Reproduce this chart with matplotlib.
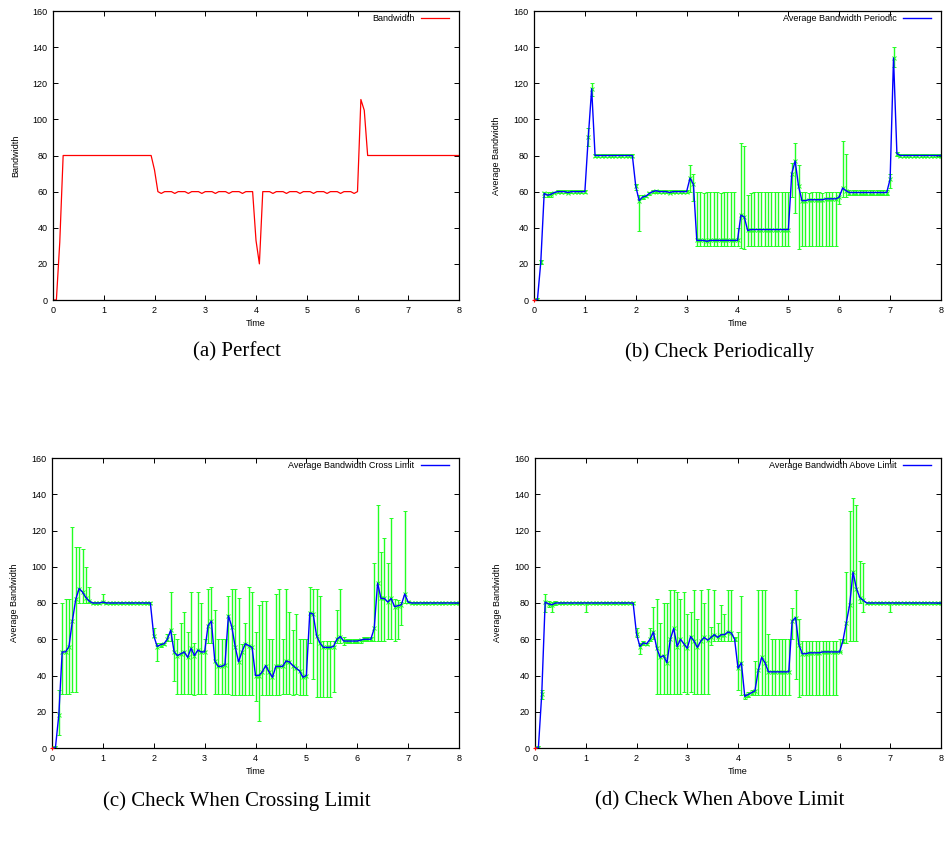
import numpy as np
import matplotlib
matplotlib.use("Agg")
import matplotlib.pyplot as plt

# one sample every 1/15 time unit, 0..8
SAMPLE_STEP = 1 / 15

# (a) perfect bandwidth
perfect = [
    0, 0, 32, 80, 80, 80, 80, 80, 80, 80, 80, 80, 80, 80, 80,
    80, 80, 80, 80, 80, 80, 80, 80, 80, 80, 80, 80, 80, 80, 80,
    72, 60, 59, 60, 60, 60, 59, 60, 60, 60, 59, 60, 60, 60, 59,
    60, 60, 60, 59, 60, 60, 60, 59, 60, 60, 60, 59, 60, 60, 60,
    33, 20, 60, 60, 60, 59, 60, 60, 60, 59, 60, 60, 60, 59, 60,
    60, 60, 59, 60, 60, 60, 59, 60, 60, 60, 59, 60, 60, 60, 59,
    60, 111, 105, 80, 80, 80, 80, 80, 80, 80, 80, 80, 80, 80, 80,
    80, 80, 80, 80, 80, 80, 80, 80, 80, 80, 80, 80, 80, 80, 80,
    80,
]

# (b) check periodically
periodic_mean = [
    0, 0, 21, 59, 58, 58.5, 59.5, 60, 60, 60, 59.5, 60, 60, 60, 60,
    60, 90, 117, 80, 80, 80, 80, 80, 80, 80, 80, 80, 80, 80, 80,
    63, 55, 57, 57.5, 59, 60, 60.5, 60, 60, 60, 59.5, 60, 60, 60, 60,
    60, 67.5, 64, 33, 33, 33, 32.5, 33, 33, 33, 33, 33, 33, 33, 33,
    33, 47, 46, 38.5, 39, 39, 39, 39, 39, 39, 39, 39, 39, 39, 39,
    39, 70, 77, 63, 55, 55, 55.5, 55.5, 55.5, 55.5, 55.5, 56, 56, 56, 56,
    57, 62, 60.5, 59.5, 59.5, 59.5, 59.5, 59.5, 59.5, 59.5, 59.5, 59.5, 59.5, 59.5, 59.5,
    67, 134, 81, 80, 80, 80, 80, 80, 80, 80, 80, 80, 80, 80, 80,
    80,
]
periodic_low = [
    0, 0, 20, 57, 57, 57, 59, 59, 59, 59, 59, 59, 59, 59, 59,
    59, 85, 113, 79, 79, 79, 79, 79, 79, 79, 79, 79, 79, 79, 79,
    61, 38, 56, 57, 58, 59, 59, 59, 59, 59, 59, 59, 59, 59, 59,
    59, 60, 55, 30, 30, 30, 30, 30, 30, 30, 30, 30, 30, 30, 30,
    30, 29, 28, 30, 30, 30, 30, 30, 30, 30, 30, 30, 30, 30, 30,
    30, 57, 48, 28, 30, 30, 30, 30, 30, 30, 30, 30, 30, 30, 30,
    53, 57, 57, 58, 58, 58, 58, 58, 58, 58, 58, 58, 58, 58, 58,
    62, 129, 80, 79, 79, 79, 79, 79, 79, 79, 79, 79, 79, 79, 79,
    79,
]
periodic_high = [
    0, 1, 22, 60, 60, 60, 60, 61, 61, 61, 61, 61, 61, 61, 61,
    61, 95, 120, 81, 81, 81, 81, 81, 81, 81, 81, 81, 81, 81, 81,
    64, 58, 58, 58, 60, 61, 61, 61, 61, 61, 61, 61, 61, 61, 61,
    61, 75, 70, 60, 60, 59, 60, 60, 60, 60, 59, 60, 60, 60, 60,
    40, 87, 85, 58, 59, 60, 60, 60, 60, 60, 60, 60, 60, 60, 60,
    60, 76, 87, 75, 60, 60, 59, 60, 60, 60, 59, 60, 60, 60, 60,
    60, 88, 81, 61, 61, 61, 61, 61, 61, 61, 61, 61, 61, 61, 61,
    70, 140, 82, 81, 81, 81, 81, 81, 81, 81, 81, 81, 81, 81, 81,
    81,
]

# (c) check when crossing limit
cross_mean = [
    0, 0, 18, 53, 53, 56, 70, 82, 88, 86, 83, 81, 80, 80, 80,
    80.5, 80, 80, 80, 80, 80, 80, 80, 80, 80, 80, 80, 80, 80, 80,
    62, 56, 57, 57.5, 60, 65, 53, 51, 52, 53, 50, 55, 51, 54, 53,
    53, 67.5, 70, 48, 45, 45, 46, 73, 67, 56, 47.5, 53, 57.5, 56.5, 55.5,
    40, 40, 42, 45.5, 42, 39, 45, 45, 45, 48, 47.5, 45.5, 44, 42.5, 39,
    40, 74.5, 74, 62, 58, 55.5, 55.5, 55.5, 56, 60, 61.5, 59, 59, 59, 59,
    59, 59.5, 60, 60, 60, 66, 91, 82.5, 82.5, 80.5, 82.5, 78, 78.5, 79, 85,
    80.5, 80, 80, 80, 80, 80, 80, 80, 80, 80, 80, 80, 80, 80, 80,
    80,
]
cross_low = [
    0, 0, 7, 30, 30, 30, 31, 31, 80, 80, 80, 80, 79.5, 79.5, 79.5,
    80, 79.5, 79.5, 79.5, 79.5, 79.5, 79.5, 79.5, 79.5, 79.5, 79.5, 79.5, 79.5, 79.5, 79.5,
    61, 48, 56, 57, 59, 59, 37, 30, 30, 30, 30, 30, 29, 30, 30,
    30, 58, 58, 30, 30, 30, 30, 30, 29, 29, 29, 29, 29, 29, 29,
    26, 15, 29, 29, 29, 29, 29, 29, 30, 30, 30, 29, 30, 29, 29,
    29, 58, 38, 28, 28, 28, 28, 28, 31, 58, 58, 57, 58, 58, 58,
    58, 58, 59, 59, 59, 59, 59, 59, 59, 60, 60, 59, 60, 68, 80,
    80, 79.5, 79.5, 79.5, 79.5, 79.5, 79.5, 79.5, 79.5, 79.5, 79.5, 79.5, 79.5, 79.5, 79.5,
    79.5,
]
cross_high = [
    0, 1, 32, 80, 82, 82, 122, 111, 111, 110, 100, 89, 80.5, 80.5, 80.5,
    85, 80.5, 80.5, 80.5, 80.5, 80.5, 80.5, 80.5, 80.5, 80.5, 80.5, 80.5, 80.5, 80.5, 80.5,
    66, 58, 58, 58, 63, 86, 63, 60, 69, 75, 64, 86, 58, 86, 80,
    60, 87.5, 89, 76, 60, 60, 60, 84, 87.5, 87.5, 82.5, 57.5, 69, 89, 86,
    64, 79, 81, 81, 60, 60, 85, 87.5, 60, 87.5, 75, 65, 74, 60, 60,
    60, 89, 87.5, 87.5, 84, 59, 59, 59, 59, 76, 87.5, 61, 60, 60, 60,
    60, 60, 61, 61, 61, 102, 134, 108, 116, 102, 127, 82, 81.5, 80.5, 130.5,
    81, 80.5, 80.5, 80.5, 80.5, 80.5, 80.5, 80.5, 80.5, 80.5, 80.5, 80.5, 80.5, 80.5, 80.5,
    80.5,
]

# (d) check when above limit
above_mean = [
    0, 0, 30, 80.5, 79.5, 79, 80, 80, 80, 80, 80, 80, 80, 80, 80,
    80, 80, 80, 80, 80, 80, 80, 80, 80, 80, 80, 80, 80, 80, 80,
    63, 56, 58, 57.5, 60, 64, 55, 50, 51, 47, 60, 66, 56, 60, 57.5,
    55, 61.5, 59, 55.5, 59, 61, 59.5, 61, 62.5, 61, 62.5, 62.5, 64, 63.5, 60,
    44, 47, 28.5, 29.5, 30.5, 31.5, 43, 50, 47, 42, 42, 42, 42, 42, 42,
    42, 70, 72, 57, 52, 52, 52.5, 52.5, 52.5, 52.5, 53, 53, 53, 53, 53,
    53, 59, 69, 79, 97, 88, 83, 81.5, 80, 80, 80, 80, 80, 80, 80,
    80, 80, 80, 80, 80, 80, 80, 80, 80, 80, 80, 80, 80, 80, 80,
    80,
]
above_low = [
    0, 0, 27, 75, 78, 75, 79, 79.5, 79.5, 79.5, 79.5, 79.5, 79.5, 79.5, 79.5,
    75, 79.5, 79.5, 79.5, 79.5, 79.5, 79.5, 79.5, 79.5, 79.5, 79.5, 79.5, 79.5, 79.5, 79.5,
    61, 52, 57, 57, 59, 60, 30, 30, 30, 30, 30, 30, 30, 30, 31,
    30, 31, 30, 30, 30, 30, 30, 57, 59, 59, 59, 59, 59, 59, 59,
    32, 29, 27, 28, 29, 29, 29, 29, 29, 29, 29, 29, 29, 29, 29,
    29, 60, 38, 28, 29, 29, 29, 29, 29, 29, 29, 29, 29, 29, 29,
    53, 58, 58, 59, 59, 59, 80, 75, 79.5, 79.5, 79.5, 79.5, 79.5, 79.5, 79.5,
    75, 79.5, 79.5, 79.5, 79.5, 79.5, 79.5, 79.5, 79.5, 79.5, 79.5, 79.5, 79.5, 79.5, 79.5,
    79.5,
]
above_high = [
    0, 1, 32, 85, 81, 80.5, 81, 80.5, 80.5, 80.5, 80.5, 80.5, 80.5, 80.5, 80.5,
    80.5, 80.5, 80.5, 80.5, 80.5, 80.5, 80.5, 80.5, 80.5, 80.5, 80.5, 80.5, 80.5, 80.5, 80.5,
    66, 58, 59, 58, 66, 78, 82, 69, 80, 80, 87, 87, 86, 82, 86,
    74, 75, 87, 71, 87, 80, 88, 67, 87, 69, 79, 74, 87, 87, 61,
    64, 84, 30, 31, 32, 48, 87, 87, 87, 63, 60, 60, 60, 60, 60,
    60, 77, 87, 71, 59, 59, 59, 59, 59, 59, 59, 59, 59, 59, 59,
    60, 60, 97, 131, 138, 134, 103, 102, 80.5, 80.5, 80.5, 80.5, 80.5, 80.5, 80.5,
    80.5, 80.5, 80.5, 80.5, 80.5, 80.5, 80.5, 80.5, 80.5, 80.5, 80.5, 80.5, 80.5, 80.5, 80.5,
    80.5,
]

TICK_FONT = 6.5
SANS = "Liberation Sans"
SERIF = "Liberation Serif"

plt.rcParams["font.family"] = SANS


def _frame(ax, ylabel):
    ax.set_xlim(0, 8)
    ax.set_ylim(0, 160)
    ax.set_xticks(range(0, 9))
    ax.set_yticks(range(0, 161, 20))
    ax.tick_params(direction="in", top=True, right=True, length=3.5,
                   width=0.7, labelsize=TICK_FONT, pad=4, colors="black")
    for s in ax.spines.values():
        s.set_linewidth(0.9)
    ax.set_xlabel("Time", fontsize=TICK_FONT, labelpad=3)
    ax.set_ylabel(ylabel, fontsize=TICK_FONT, labelpad=9)


def _legend(ax):
    ax.legend(loc="upper right", bbox_to_anchor=(0.975, 0.99), frameon=False,
              markerfirst=False, fontsize=TICK_FONT, handlelength=3.1,
              handletextpad=0.7, borderpad=0, borderaxespad=0)


def plot_errors(ax, time, mean, low, high, label):
    mean = np.asarray(mean, dtype=float)
    yerr = [mean - np.asarray(low), np.asarray(high) - mean]
    ax.errorbar(time, mean, yerr=yerr, fmt="x", color="#22ff22", ms=2.4,
                mew=0.7, elinewidth=1.0, capsize=1.5, capthick=0.7, zorder=2)
    ax.plot(time[:1], mean[:1], "+", color="red", ms=3, mew=0.8, zorder=4,
            clip_on=False)
    ax.plot(time, mean, color="#0000ff", lw=1.0, label=label, zorder=3)
    _frame(ax, "Average Bandwidth")
    _legend(ax)


fig = plt.figure(figsize=(9.46, 8.42), dpi=100)
W, H = 946, 842


def _axes(left, top, right, bottom):
    return fig.add_axes([left / W, 1 - bottom / H, (right - left) / W, (bottom - top) / H])


time = np.arange(len(perfect)) * SAMPLE_STEP

ax_a = _axes(53, 11, 459, 300)
ax_a.plot(time, perfect, color="red", lw=0.9, label="Bandwidth")
_frame(ax_a, "Bandwidth")
_legend(ax_a)

ax_b = _axes(534, 11, 941, 300)
plot_errors(ax_b, time, periodic_mean, periodic_low, periodic_high,
            "Average Bandwidth Periodic")

ax_c = _axes(52, 458, 459, 748)
plot_errors(ax_c, time, cross_mean, cross_low, cross_high,
            "Average Bandwidth Cross Limit")

ax_d = _axes(535, 458, 941, 748)
plot_errors(ax_d, time, above_mean, above_low, above_high,
            "Average Bandwidth Above Limit")

captions = [
    ("(a) Perfect", 237, 352),
    ("(b) Check Periodically", 720, 352),
    ("(c) Check When Crossing Limit", 237, 801),
    ("(d) Check When Above Limit", 720, 801),
]
for text, x, y in captions:
    fig.text(x / W, 1 - y / H, text, ha="center", va="center",
             family=SERIF, fontsize=15)

fig.savefig("out.png", dpi=100)
plt.close(fig)
